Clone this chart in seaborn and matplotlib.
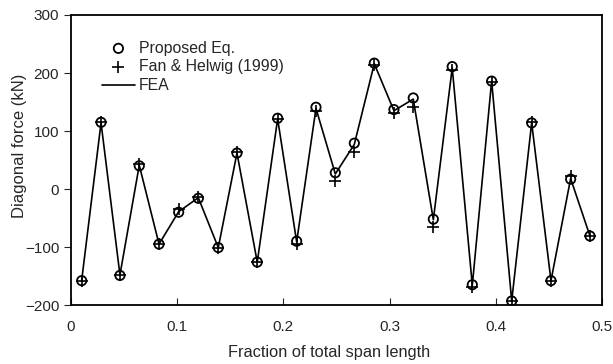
import numpy as np
import pandas as pd
import matplotlib
matplotlib.use("Agg")
import matplotlib.pyplot as plt
import seaborn as sns

# positions along the span (fraction of total length)
span_frac = [0.0101, 0.0283, 0.0461, 0.0643, 0.0829, 0.1014, 0.1199, 0.1387, 0.1563,
             0.1754, 0.1946, 0.2125, 0.2307, 0.2489, 0.2668, 0.2856, 0.3041, 0.3223,
             0.3412, 0.3590, 0.3779, 0.3961, 0.4150, 0.4338, 0.4520, 0.4705, 0.4887]

# diagonal forces (kN)
proposed = [-158, 115, -149, 40, -95, -40, -16, -101, 62,
            -126, 122, -90, 141, 28, 79, 217, 137, 157,
            -52, 211, -165, 186, -193, 114, -158, 17, -81]
fan_helwig = [-158, 116, -149, 43, -94, -35, -14, -101, 63,
              -126, 121, -95, 134, 14, 64, 213, 131, 141,
              -65, 205, -169, 184, -193, 116, -158, 22, -81]
fea = [-157, 114, -148, 41, -95, -39, -15, -101, 62,
       -126, 121, -91, 139, 26, 77, 216, 135, 155,
       -53, 209, -166, 186, -193, 114, -158, 18, -81]

df = pd.DataFrame({"x": span_frac, "proposed": proposed,
                   "fan": fan_helwig, "fea": fea})

sns.set_style("ticks")
plt.rcParams["font.family"] = ["Liberation Sans", "DejaVu Sans"]

fig = plt.figure(figsize=(6.13, 3.64), dpi=100)
ax = fig.add_axes([0.1158, 0.162, 0.8662, 0.7968])

sns.lineplot(data=df, x="x", y="fea", ax=ax, color="black", lw=1.2, label="FEA")
sns.scatterplot(data=df, x="x", y="proposed", ax=ax, marker="o", s=45,
                facecolor="none", edgecolor="black", linewidth=1.3,
                label="Proposed Eq.", zorder=3)
ax.scatter(df["x"], df["fan"], marker="+", s=70, color="black", linewidths=1.2,
           label="Fan & Helwig (1999)", zorder=3)

ax.set_xlim(0, 0.5)
ax.set_ylim(-200, 300)
ax.set_xticks([0, 0.1, 0.2, 0.3, 0.4, 0.5])
ax.set_xticklabels(["0", "0.1", "0.2", "0.3", "0.4", "0.5"])
ax.set_yticks([-200, -100, 0, 100, 200, 300])
ax.tick_params(axis="x", direction="in", length=5, labelsize=11, pad=11)
ax.tick_params(axis="y", direction="out", length=5, labelsize=11)
for s in ax.spines.values():
    s.set_linewidth(1.3)
    s.set_color("black")

ax.set_xlabel("Fraction of total span length", fontsize=11.8)
ax.set_ylabel("Diagonal force (kN)", fontsize=12)
ax.xaxis.set_label_coords(0.486, -0.137)
ax.yaxis.set_label_coords(-0.083, 0.55)

h, l = ax.get_legend_handles_labels()
order = [l.index("Proposed Eq."), l.index("Fan & Helwig (1999)"), l.index("FEA")]
ax.legend([h[i] for i in order], [l[i] for i in order], loc="upper left",
          bbox_to_anchor=(0.058, 0.912), frameon=False, fontsize=11.4,
          borderpad=0, borderaxespad=0, labelspacing=0.25, handlelength=2.1,
          handletextpad=0.25)

fig.savefig("out.png", dpi=100)
